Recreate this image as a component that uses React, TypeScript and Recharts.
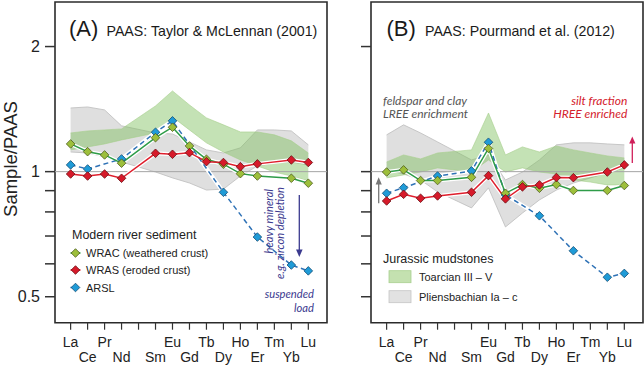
import React from 'react'
import { ComposedChart, Line, Area, XAxis, YAxis, ReferenceLine, ReferenceArea } from 'recharts'

// REE order, Pm kept as an empty slot on the axis
const ELEMENTS = ['La', 'Ce', 'Pr', 'Nd', 'Pm', 'Sm', 'Eu', 'Gd', 'Tb', 'Dy', 'Ho', 'Er', 'Tm', 'Yb', 'Lu']
const TICK_LABELS = ['La', 'Ce', 'Pr', 'Nd', '', 'Sm', 'Eu', 'Gd', 'Tb', 'Dy', 'Ho', 'Er', 'Tm', 'Yb', 'Lu']
const X_TICKS = [0, 1, 2, 3, 4, 5, 6, 7, 8, 9, 10, 11, 12, 13, 14]
const Y_TICKS = [0.5, 0.6, 0.7, 0.8, 0.9, 1, 2]
const Y_LABELS: Record<string, string> = { '0.5': '0.5', '1': '1', '2': '2' }

// (A) PAAS: Taylor & McLennan (2001)
const WRAC_A = [1.166, 1.117, 1.097, 1.048, null, 1.207, 1.279, 1.153, 1.071, 1.042, 0.989, 0.976, null, 0.964, 0.938]
const WRAS_A = [0.987, 0.976, 0.987, 0.964, null, 1.107, 1.101, 1.111, 1.057, 1.052, 1.028, 1.044, null, 1.067, 1.052]
const ARSL_A = [1.038, 1.015, null, 1.073, null, 1.244, 1.325, null, null, 0.892, null, 0.696, null, 0.596, 0.577]
const GRAY_A_LO = [1.115, 1.109, 1.085, 1.055, null, 0.998, 0.966, 0.939, 0.903, 0.908, 0.976, 1.032, 1.049, 1.055, 1.038]
const GRAY_A_HI = [1.423, 1.431, 1.408, 1.289, null, 1.239, 1.232, 1.179, 1.128, 1.109, 1.141, 1.26, 1.26, 1.253, 1.16]
const GREEN_A_LO = [1.128, 1.147, 1.166, 1.192, null, 1.239, 1.354, 1.26, 1.173, 1.115, 1.067, 1.032, 0.998, 0.976, 0.95]
const GREEN_A_HI = [1.239, 1.253, 1.26, 1.267, null, 1.439, 1.564, 1.447, 1.347, 1.296, 1.246, 1.246, 1.226, 1.186, 1.109]

// (B) PAAS: Pourmand et al. (2012)
const WRAC_B = [0.998, 1.01, 0.952, 0.952, null, 0.969, 1.137, 0.887, 0.931, 0.912, 0.931, 0.901, null, 0.901, 0.926]
const WRAS_B = [0.85, 0.882, 0.863, 0.874, null, 0.892, 0.978, 0.86, 0.919, 0.929, 0.968, 0.967, null, 0.998, 1.038]
const ARSL_B = [0.887, 0.915, null, 0.976, null, 1.004, 1.177, 0.879, null, 0.783, null, 0.645, null, 0.557, 0.569]
const GRAY_B_LO = [1.009, 0.987, 0.955, 0.894, null, 0.818, 0.914, 0.736, 0.795, 0.855, 0.903, 0.939, 0.966, 0.993, 1.021]
const GRAY_B_HI = [1.226, 1.296, 1.239, 1.179, null, 1.067, 1.097, 0.955, 0.998, 1.067, 1.16, 1.173, 1.173, 1.166, 1.16]
const GREEN_B_LO = [0.966, 0.982, 0.998, 1.021, null, 0.998, 1.067, 0.998, 1.021, 0.998, 0.987, 0.955, 0.944, 0.929, 0.929]
const GREEN_B_HI = [1.055, 1.097, 1.073, 1.109, null, 1.128, 1.384, 1.097, 1.147, 1.115, 1.153, 1.128, 1.109, 1.091, 1.079]

const X_DOMAIN = [-0.92, 15.1]
const Y_DOMAIN = [0.433, 2.56]

const FONT = '"Liberation Sans", Arial, sans-serif'
const ITALIC = 'Lato, "Open Sans", sans-serif'

const C = {
  wracLine: '#2e9c48',
  wracFill: '#9dbf3b',
  wracEdge: '#4d5c1c',
  wrasLine: '#df1f2d',
  wrasFill: '#d61a2a',
  wrasEdge: '#6b0c12',
  arslLine: '#2f72b6',
  arslFill: '#1f9bd7',
  arslEdge: '#124d75',
  green: '#7dbf5a',
  gray: '#c0c0c0',
}

type Num = number | null

function buildRows(wrac: Num[], wras: Num[], arsl: Num[], grayLo: Num[], grayHi: Num[], greenLo: Num[], greenHi: Num[]) {
  return ELEMENTS.map((el, i) => ({
    x: i,
    el,
    wrac: wrac[i],
    wras: wras[i],
    arsl: arsl[i],
    gray: grayLo[i] == null ? null : [grayLo[i], grayHi[i]],
    green: greenLo[i] == null ? null : [greenLo[i], greenHi[i]],
  }))
}

const rowsA = buildRows(WRAC_A, WRAS_A, ARSL_A, GRAY_A_LO, GRAY_A_HI, GREEN_A_LO, GREEN_A_HI)
const rowsB = buildRows(WRAC_B, WRAS_B, ARSL_B, GRAY_B_LO, GRAY_B_HI, GREEN_B_LO, GREEN_B_HI)

function diamondPath(cx: number, cy: number, r: number) {
  return `M${cx},${cy - r}L${cx + r},${cy}L${cx},${cy + r}L${cx - r},${cy}Z`
}

const makeDot = (fill: string, edge: string) => (p: any) => {
  if (p.value == null || p.cx == null || p.cy == null) return <g key={`n${p.index}`} />
  return <path key={`d${p.index}`} d={diamondPath(p.cx, p.cy, 4.3)} fill={fill} stroke={edge} strokeWidth={0.8} />
}

const ElementTick = (props: any) => {
  const { x, y, payload } = props
  const i = payload.value
  return (
    <text x={x} y={y + (i % 2 === 0 ? 15 : 30)} textAnchor='middle' fontSize={14} fill='#222' fontFamily={FONT}>
      {TICK_LABELS[i]}
    </text>
  )
}

function Panel({ rows, left, width, right, yLabels }: { rows: any[]; left: number; width: number; right: number; yLabels: boolean }) {
  return (
    <div style={{ position: 'absolute', left, top: 0 }}>
      <ComposedChart width={width} height={366} data={rows} margin={{ top: 2, right, left: 5, bottom: 3.3 }}>
        <XAxis
          dataKey='x'
          type='number'
          domain={X_DOMAIN}
          ticks={X_TICKS}
          interval={0}
          allowDataOverflow
          height={40}
          axisLine={false}
          tickSize={7}
          tickLine={{ stroke: '#333', strokeWidth: 1.2 }}
          tick={<ElementTick />}
        />
        <YAxis
          scale='log'
          domain={Y_DOMAIN}
          ticks={Y_TICKS}
          interval={0}
          allowDataOverflow
          width={50}
          axisLine={false}
          tickSize={10}
          tickMargin={5}
          tickLine={{ stroke: '#333', strokeWidth: 1.5 }}
          tick={{ fontSize: 16, fill: '#222', fontFamily: FONT }}
          tickFormatter={(v) => (yLabels ? Y_LABELS[String(v)] ?? '' : '')}
        />
        <Area
          type='linear'
          dataKey='gray'
          fill={C.gray}
          fillOpacity={0.5}
          stroke='#bdbdbd'
          strokeWidth={0.8}
          connectNulls
          dot={false}
          activeDot={false}
          isAnimationActive={false}
        />
        <Area
          type='linear'
          dataKey='green'
          fill={C.green}
          fillOpacity={0.45}
          stroke='#a6cf8c'
          strokeWidth={0.6}
          connectNulls
          dot={false}
          activeDot={false}
          isAnimationActive={false}
        />
        <ReferenceLine y={1} stroke='#a5a5a5' strokeWidth={1} />
        <Line dataKey='arsl' stroke='#fff' strokeWidth={4} dot={false} activeDot={false} connectNulls isAnimationActive={false} />
        <Line dataKey='wrac' stroke='#fff' strokeWidth={4} dot={false} activeDot={false} connectNulls isAnimationActive={false} />
        <Line dataKey='wras' stroke='#fff' strokeWidth={4} dot={false} activeDot={false} connectNulls isAnimationActive={false} />
        <Line
          dataKey='arsl'
          stroke={C.arslLine}
          strokeWidth={1.5}
          strokeDasharray='5 3.5'
          dot={makeDot(C.arslFill, C.arslEdge)}
          activeDot={false}
          connectNulls
          isAnimationActive={false}
        />
        <Line
          dataKey='wrac'
          stroke={C.wracLine}
          strokeWidth={1.5}
          dot={makeDot(C.wracFill, C.wracEdge)}
          activeDot={false}
          connectNulls
          isAnimationActive={false}
        />
        <Line
          dataKey='wras'
          stroke={C.wrasLine}
          strokeWidth={1.5}
          dot={makeDot(C.wrasFill, C.wrasEdge)}
          activeDot={false}
          connectNulls
          isAnimationActive={false}
        />
        <ReferenceArea
          x1={X_DOMAIN[0]}
          x2={X_DOMAIN[1]}
          y1={Y_DOMAIN[0]}
          y2={Y_DOMAIN[1]}
          fill='none'
          stroke='#2b2b2b'
          strokeWidth={1.6}
          ifOverflow='visible'
        />
      </ComposedChart>
    </div>
  )
}

function LegendRow({ y, label, line, fill, edge, dashed }: any) {
  return (
    <g>
      <line x1={70.5} x2={80.5} y1={y} y2={y} stroke={line} strokeWidth={1.5} strokeDasharray={dashed ? '3 2' : undefined} />
      <path d={diamondPath(75.5, y, 4.3)} fill={fill} stroke={edge} strokeWidth={0.8} />
      <text x={86} y={y + 4} fontSize={11} fill='#222' fontFamily={FONT}>
        {label}
      </text>
    </g>
  )
}

function Overlay() {
  return (
    <svg width={644} height={366} style={{ position: 'absolute', left: 0, top: 0, pointerEvents: 'none' }}>
      <text x={17} y={159} fontSize={18.5} fill='#222' fontFamily={FONT} textAnchor='middle' transform='rotate(-90 17 159)'>
        Sample/PAAS
      </text>

      {/* panel A */}
      <text x={69} y={36} fontFamily={FONT} fill='#1a1a1a'>
        <tspan fontSize={22}>(A)</tspan>
        <tspan x={106.5} fontSize={14.2}>PAAS: Taylor &amp; McLennan (2001)</tspan>
      </text>
      <text x={72} y={239} fontSize={12.5} fill='#222' fontFamily={FONT}>
        Modern river sediment
      </text>
      <LegendRow y={253} label='WRAC (weathered crust)' line={C.wracLine} fill={C.wracFill} edge={C.wracEdge} />
      <LegendRow y={270} label='WRAS (eroded crust)' line={C.wrasLine} fill={C.wrasFill} edge={C.wrasEdge} />
      <LegendRow y={287.5} label='ARSL' line={C.arslLine} fill={C.arslFill} edge={C.arslEdge} dashed />
      <g fontFamily={ITALIC} fontStyle='italic' fontSize={11.2} fill='#3b3a8f'>
        <text x={272.5} y={189} textAnchor='end' transform='rotate(-90 272.5 189)'>
          heavy mineral
        </text>
        <text x={283.5} y={187} textAnchor='end' transform='rotate(-90 283.5 187)'>
          e.g. zircon depletion
        </text>
        <text x={314} y={298} textAnchor='end'>
          suspended
        </text>
        <text x={314} y={312} textAnchor='end'>
          load
        </text>
      </g>
      <line x1={299.3} x2={299.3} y1={195} y2={251} stroke='#3b3a8f' strokeWidth={1.3} />
      <polygon points='296,249.5 302.6,249.5 299.3,257' fill='#3b3a8f' />

      {/* panel B */}
      <text x={386.5} y={36} fontFamily={FONT} fill='#1a1a1a'>
        <tspan fontSize={22}>(B)</tspan>
        <tspan x={425} fontSize={14.2}>PAAS: Pourmand et al. (2012)</tspan>
      </text>
      <g fontFamily={ITALIC} fontStyle='italic' fontSize={12}>
        <text x={383} y={104.5} fill='#555'>
          feldspar and clay
        </text>
        <text x={383} y={118} fill='#555'>
          LREE enrichment
        </text>
        <text x={627.3} y={104.5} fill='#d4202c' textAnchor='end'>
          silt fraction
        </text>
        <text x={627.3} y={118} fill='#d4202c' textAnchor='end'>
          HREE enriched
        </text>
      </g>
      <line x1={632.3} x2={632.3} y1={163} y2={142} stroke='#d01f5a' strokeWidth={1.3} />
      <polygon points='629.2,143.5 635.4,143.5 632.3,136.5' fill='#d01f5a' />
      <line x1={378.7} x2={378.7} y1={203.3} y2={183} stroke='#777' strokeWidth={1.3} />
      <polygon points='375.6,184.5 381.8,184.5 378.7,177.3' fill='#777' />

      <text x={383} y={262.5} fontSize={12.5} fill='#222' fontFamily={FONT}>
        Jurassic mudstones
      </text>
      <rect x={389} y={270.7} width={22} height={12} fill='#c4e1b0' stroke='#a9cf90' strokeWidth={0.8} />
      <text x={419} y={280.5} fontSize={11} fill='#222' fontFamily={FONT}>
        Toarcian III – V
      </text>
      <rect x={389} y={290.7} width={22} height={12} fill='#e2e2e2' stroke='#c5c5c5' strokeWidth={0.8} />
      <text x={419} y={300.5} fontSize={11} fill='#222' fontFamily={FONT}>
        Pliensbachian Ia – c
      </text>
    </svg>
  )
}

export default function App() {
  return (
    <div style={{ position: 'absolute', left: 0, top: 0, width: 644, height: 366, background: '#fff', overflow: 'hidden' }}>
      <Panel rows={rowsA} left={0} width={340} right={13} yLabels />
      <Panel rows={rowsB} left={316} width={328} right={1} yLabels={false} />
      <Overlay />
    </div>
  )
}
